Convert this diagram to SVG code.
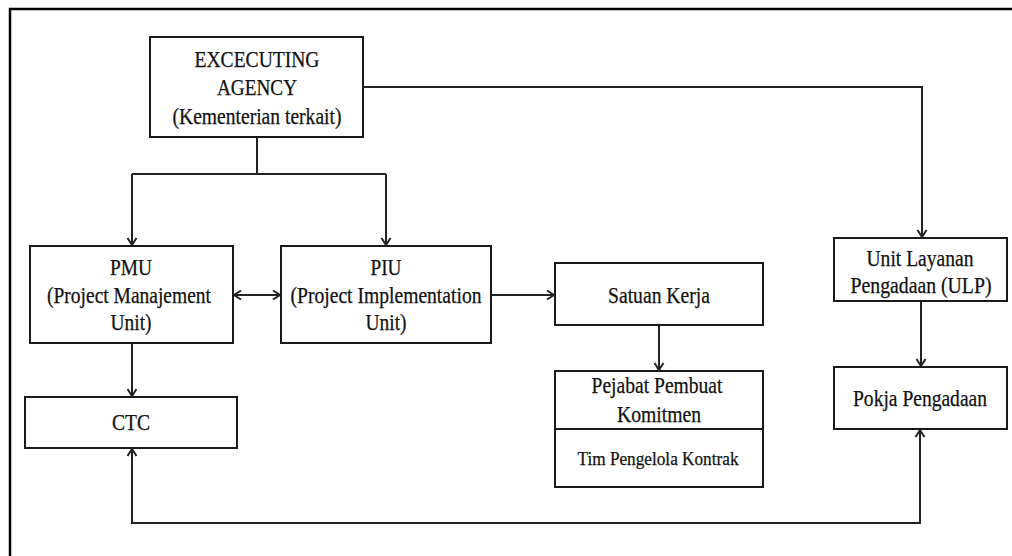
<svg xmlns="http://www.w3.org/2000/svg" width="1012" height="556" viewBox="0 0 1012 556">
<style>
  .box{fill:#fff;stroke:#1a1a1a;stroke-width:2}
  .t{font-family:"Liberation Serif","Times New Roman",serif;font-size:22.5px;fill:#111;stroke:#111;stroke-width:0.25;text-anchor:middle}
  .s{font-size:19px}
  .c{fill:none;stroke:#222;stroke-width:2}
</style>
<defs>
  <marker id="ah" markerUnits="userSpaceOnUse" markerWidth="12" markerHeight="12" viewBox="0 0 12 12" refX="10" refY="6" orient="auto-start-reverse">
    <path d="M3,1.5 L10,6 L3,10.5" fill="none" stroke="#222" stroke-width="2"/>
  </marker>
</defs>
<rect width="1012" height="556" fill="#fff"/>
<path d="M10,556 V9 H1012" fill="none" stroke="#000" stroke-width="2.5"/>

<g id="connectors">
  <path class="c" d="M257,137 V174"/>
  <path class="c" d="M132,174 H386"/>
  <path class="c" d="M132,174 V245" marker-end="url(#ah)"/>
  <path class="c" d="M386,174 V245" marker-end="url(#ah)"/>
  <path class="c" d="M363,87 H922 V237" marker-end="url(#ah)"/>
  <path class="c" d="M234,295 H280" marker-start="url(#ah)" marker-end="url(#ah)"/>
  <path class="c" d="M492,295 H554" marker-end="url(#ah)"/>
  <path class="c" d="M132,344 V396" marker-end="url(#ah)"/>
  <path class="c" d="M659,326 V370" marker-end="url(#ah)"/>
  <path class="c" d="M921,302 V366" marker-end="url(#ah)"/>
  <path class="c" d="M132,449 V523 H920 V430" marker-start="url(#ah)" marker-end="url(#ah)"/>
</g>

<g id="executing-agency">
  <rect class="box" x="150" y="37" width="213" height="100"/>
  <text class="t" x="257" y="67" textLength="125" lengthAdjust="spacingAndGlyphs">EXCECUTING</text>
  <text class="t" x="257" y="95" textLength="80" lengthAdjust="spacingAndGlyphs">AGENCY</text>
  <text class="t" x="257" y="124" textLength="169" lengthAdjust="spacingAndGlyphs">(Kementerian terkait)</text>
</g>

<g id="pmu">
  <rect class="box" x="30" y="246" width="203" height="97"/>
  <text class="t" x="131" y="275" textLength="42" lengthAdjust="spacingAndGlyphs">PMU</text>
  <text class="t" x="129" y="303" textLength="164" lengthAdjust="spacingAndGlyphs">(Project Manajement</text>
  <text class="t" x="131" y="330" textLength="41" lengthAdjust="spacingAndGlyphs">Unit)</text>
</g>

<g id="piu">
  <rect class="box" x="281" y="246" width="210" height="97"/>
  <text class="t" x="386" y="275" textLength="31" lengthAdjust="spacingAndGlyphs">PIU</text>
  <text class="t" x="386" y="303" textLength="191" lengthAdjust="spacingAndGlyphs">(Project Implementation</text>
  <text class="t" x="386" y="330" textLength="41" lengthAdjust="spacingAndGlyphs">Unit)</text>
</g>

<g id="ctc">
  <rect class="box" x="25" y="397" width="212" height="51"/>
  <text class="t" x="131" y="430" textLength="38" lengthAdjust="spacingAndGlyphs">CTC</text>
</g>

<g id="satuan-kerja">
  <rect class="box" x="555" y="263" width="208" height="62"/>
  <text class="t" x="659" y="303" textLength="102" lengthAdjust="spacingAndGlyphs">Satuan Kerja</text>
</g>

<g id="ppk">
  <rect class="box" x="555" y="371" width="208" height="116"/>
  <line x1="555" y1="429" x2="763" y2="429" stroke="#1a1a1a" stroke-width="2"/>
  <text class="t" x="657" y="393" textLength="131" lengthAdjust="spacingAndGlyphs">Pejabat Pembuat</text>
  <text class="t" x="659" y="422" textLength="84" lengthAdjust="spacingAndGlyphs">Komitmen</text>
  <text class="t s" x="658" y="465" textLength="161" lengthAdjust="spacingAndGlyphs">Tim Pengelola Kontrak</text>
</g>

<g id="ulp">
  <rect class="box" x="834" y="238" width="173" height="63"/>
  <text class="t" x="920" y="266" textLength="107" lengthAdjust="spacingAndGlyphs">Unit Layanan</text>
  <text class="t" x="921" y="293" textLength="141" lengthAdjust="spacingAndGlyphs">Pengadaan (ULP)</text>
</g>

<g id="pokja">
  <rect class="box" x="834" y="367" width="173" height="62"/>
  <text class="t" x="920" y="406" textLength="134" lengthAdjust="spacingAndGlyphs">Pokja Pengadaan</text>
</g>
</svg>
